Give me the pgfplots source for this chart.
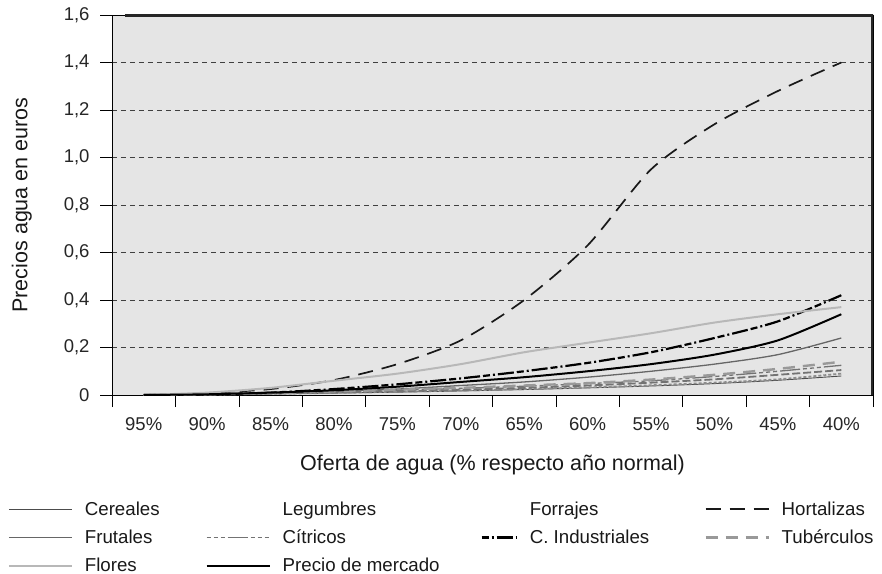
\documentclass[border=0pt]{standalone}
\usepackage{pgfplots}
\pgfplotsset{compat=1.18}
\usepackage{pgfplotstable}
\usepackage{fontspec}
\setmainfont{Liberation Sans}

\pgfplotsset{
  shortimg/.style={legend image code/.code={\draw[##1] (0bp,0bp) -- (35bp,0bp);}},
  noimg/.style={legend image code/.code={\path[draw=none,fill=none] (0bp,0bp) -- (63bp,0bp);}},
  noimgshort/.style={legend image code/.code={\path[draw=none,fill=none] (0bp,0bp) -- (35bp,0bp);}},
}

\pgfplotstableread{
x  cer    leg    forr   hort   frut   citr   ind    tub    flor   merc
0  0.000  0.000  0.000  0.000  0.000  0.000  0.000  0.000  0.000  0.000
1  0.002  0.002  0.003  0.008  0.003  0.003  0.003  0.003  0.010  0.003
2  0.005  0.005  0.006  0.025  0.008  0.007  0.010  0.008  0.030  0.010
3  0.008  0.009  0.011  0.063  0.015  0.013  0.025  0.015  0.060  0.020
4  0.012  0.014  0.016  0.130  0.025  0.020  0.045  0.022  0.090  0.035
5  0.017  0.019  0.022  0.230  0.040  0.028  0.070  0.030  0.130  0.055
6  0.023  0.025  0.030  0.400  0.055  0.037  0.100  0.040  0.180  0.075
7  0.030  0.032  0.040  0.630  0.075  0.048  0.135  0.050  0.220  0.100
8  0.038  0.041  0.052  0.950  0.100  0.060  0.180  0.065  0.260  0.130
9  0.048  0.052  0.066  1.140  0.130  0.078  0.240  0.085  0.305  0.170
10 0.062  0.066  0.085  1.280  0.170  0.100  0.310  0.110  0.340  0.230
11 0.080  0.090  0.105  1.400  0.240  0.125  0.420  0.140  0.370  0.340
}\datatable

\begin{document}
\begin{tikzpicture}
\useasboundingbox (-112bp,-179bp) rectangle (770bp,395bp);
\begin{axis}[
  at={(0,0)}, anchor=south west,
  width=761bp, height=380bp, scale only axis,
  xmin=-0.5, xmax=11.5, ymin=0, ymax=1.6,
  axis background/.style={fill=black!10},
  axis line style={black, line width=0.6bp},
  xtick={0,...,11},
  xticklabels={95\%,90\%,85\%,80\%,75\%,70\%,65\%,60\%,55\%,50\%,45\%,40\%},
  minor xtick={-0.5,0.5,...,11.5},
  major x tick style={draw=none},
  minor tick length=12bp,
  major tick length=12bp,
  tick align=outside,
  tick style={black, line width=0.6bp},
  xtick pos=bottom, ytick pos=left,
  ytick={0,0.2,...,1.6},
  yticklabels={0,{0,2},{0,4},{0,6},{0,8},{1,0},{1,2},{1,4},{1,6}},
  ymajorgrids,
  major grid style={black!75, line width=0.8bp, dash pattern=on 5bp off 4bp},
  tick label style={font=\fontsize{18.5bp}{21bp}\selectfont, black!85},
  xticklabel style={yshift=-7bp},
  yticklabel style={xshift=-7bp},
  xlabel={Oferta de agua (\% respecto año normal)},
  ylabel={Precios agua en euros},
  label style={font=\fontsize{21.5bp}{24bp}\selectfont, black!90},
  xlabel style={yshift=-17bp},
  ylabel style={yshift=25bp},
  legend columns=4,
  legend cell align=left,
  legend style={
    at={(-0.141,-0.270)}, anchor=north west,
    draw=none, fill=none,
    font=\fontsize{18.7bp}{22bp}\selectfont,
    text=black!90,
    row sep=9bp,
    /tikz/every odd column/.append style={column sep=10bp},
    /tikz/column 2/.style={column sep=44bp},
    /tikz/column 4/.style={column sep=39bp},
    /tikz/column 6/.style={column sep=53bp},
  },
  legend image code/.code={\draw[#1] (0bp,0bp) -- (63bp,0bp);},
  every axis plot/.append style={smooth, tension=0.45},
]
\addplot[black!70, line width=0.9bp] table[x=x,y=cer]{\datatable};
\addlegendentry{Cereales}
\addplot[black!45, line width=1.8bp, dash pattern=on 3bp off 2bp, noimg] table[x=x,y=leg]{\datatable};
\addlegendentry{Legumbres}
\addplot[black!55, line width=1.8bp, dash pattern=on 8bp off 3bp, noimgshort] table[x=x,y=forr]{\datatable};
\addlegendentry{Forrajes}
\addplot[black!90, line width=1.7bp, dash pattern=on 15bp off 9bp] table[x=x,y=hort]{\datatable};
\addlegendentry{Hortalizas}
\addplot[black!60, line width=1.3bp] table[x=x,y=frut]{\datatable};
\addlegendentry{Frutales}
\addplot[black!55, line width=1.3bp, dash pattern=on 4bp off 3bp on 4bp off 3bp on 4bp off 3bp on 20bp off 3bp] table[x=x,y=citr]{\datatable};
\addlegendentry{Cítricos}
\addplot[black, line width=2.2bp, dash pattern=on 7bp off 3bp on 2bp off 3bp on 16bp off 3bp, shortimg] table[x=x,y=ind]{\datatable};
\addlegendentry{C. Industriales}
\addplot[black!40, line width=2.4bp, dash pattern=on 12bp off 8bp] table[x=x,y=tub]{\datatable};
\addlegendentry{Tubérculos}
\addplot[black!28, line width=2bp] table[x=x,y=flor]{\datatable};
\addlegendentry{Flores}
\addplot[black, line width=2bp] table[x=x,y=merc]{\datatable};
\addlegendentry{Precio de mercado}
\draw[black!85, line width=4bp] (rel axis cs:0.017,1) -- (rel axis cs:1,1) -- (rel axis cs:1,0);
\end{axis}
\end{tikzpicture}
\end{document}
